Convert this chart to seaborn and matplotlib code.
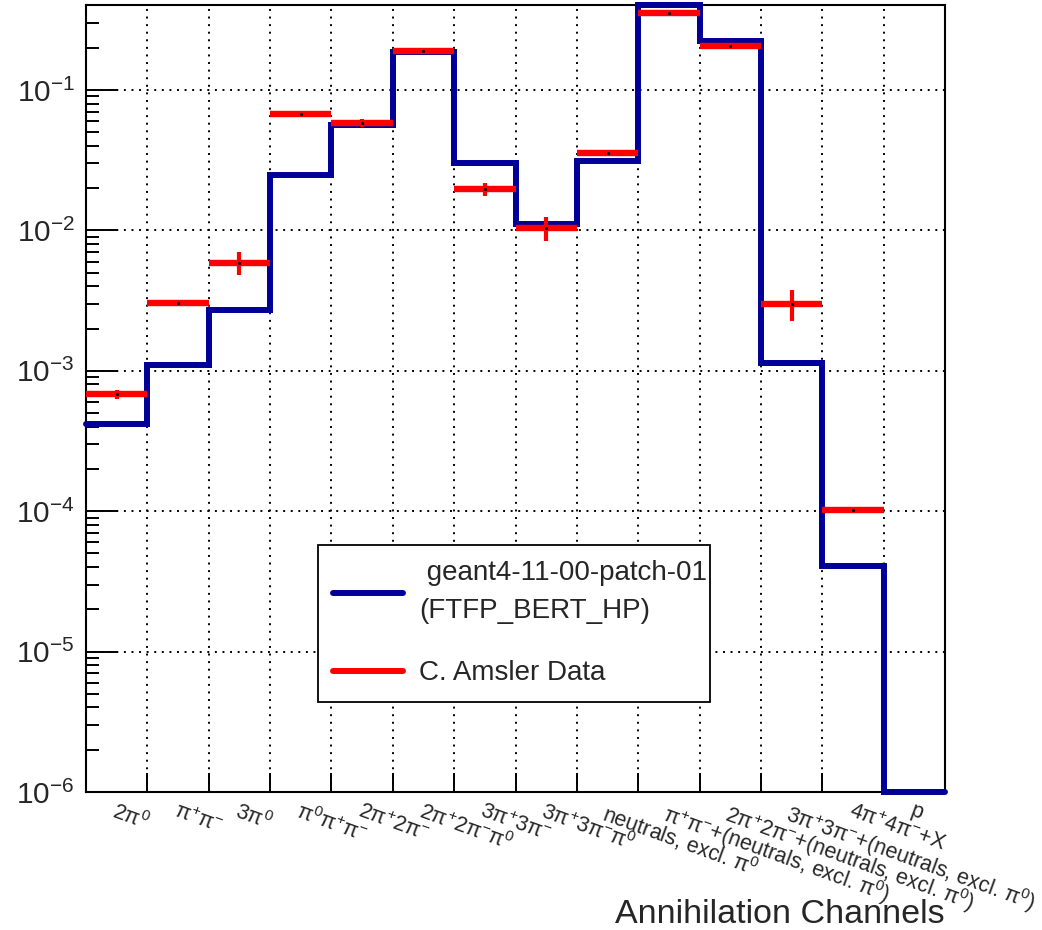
import numpy as np
import pandas as pd
import matplotlib
matplotlib.use("Agg")
import matplotlib.pyplot as plt
from matplotlib.lines import Line2D
from matplotlib.ticker import LogLocator, FixedLocator, NullFormatter
import seaborn as sns

# Annihilation channels (x categories)
channels = [
    r"$2\pi^{0}$",
    r"$\pi^{+}\pi^{-}$",
    r"$3\pi^{0}$",
    r"$\pi^{0}\pi^{+}\pi^{-}$",
    r"$2\pi^{+}2\pi^{-}$",
    r"$2\pi^{+}2\pi^{-}\pi^{0}$",
    r"$3\pi^{+}3\pi^{-}$",
    r"$3\pi^{+}3\pi^{-}\pi^{0}$",
    r"neutrals, excl. $\pi^{0}$",
    r"$\pi^{+}\pi^{-}$+(neutrals, excl. $\pi^{0}$)",
    r"$2\pi^{+}2\pi^{-}$+(neutrals, excl. $\pi^{0}$)",
    r"$3\pi^{+}3\pi^{-}$+(neutrals, excl. $\pi^{0}$)",
    r"$4\pi^{+}4\pi^{-}$+X",
    r"p",
]

# Simulated branching fractions (geant4-11-00-patch-01, FTFP_BERT_HP)
geant4_fraction = [4.2e-4, 1.10e-3, 2.7e-3, 0.0248, 0.0564, 0.187, 0.0302,
                   0.0111, 0.0312, 0.40, 0.223, 1.14e-3, 4.1e-5, 1.0e-6]

# Measured branching fractions (C. Amsler) and their uncertainties
amsler_fraction = [6.8e-4, 3.04e-3, 5.9e-3, 0.0674, 0.0582, 0.190, 0.0197,
                   0.0104, 0.0356, 0.353, 0.206, 3.0e-3, 1.02e-4, np.nan]
amsler_error = [0.5e-4, 0.15e-3, 1.1e-3, 0.003, 0.004, 0.008, 0.0022,
                0.0020, 0.0018, 0.015, 0.008, 0.75e-3, 0.05e-4, np.nan]

model_label = " geant4-11-00-patch-01\n(FTFP_BERT_HP)"
data_label = "C. Amsler Data"
x_title = "Annihilation Channels"

sns.set_theme(style="white")
plt.rcParams["font.family"] = ["Liberation Sans", "DejaVu Sans"]
plt.rcParams["mathtext.fontset"] = "custom"
plt.rcParams["mathtext.rm"] = "Liberation Sans"
plt.rcParams["mathtext.it"] = "Liberation Sans:italic"
plt.rcParams["mathtext.bf"] = "Liberation Sans:bold"
plt.rcParams["mathtext.default"] = "regular"

BLUE = "#000099"
RED = "#ff0000"

n = len(channels)
edges = np.arange(n + 1)
centers = edges[:-1] + 0.5
half_width = 0.5 * np.diff(edges)

sim = pd.DataFrame({"channel": centers, "fraction": geant4_fraction})

fig = plt.figure(figsize=(10.42, 9.30), dpi=100)
ax = fig.add_axes([86 / 1042, 1 - 792 / 930, (945 - 86) / 1042, (792 - 5) / 930])

# Simulation histogram drawn as a step outline
sns.histplot(data=sim, x="channel", weights="fraction", bins=edges.tolist(),
             element="step", fill=False, color=BLUE, linewidth=4.3, ax=ax,
             zorder=3)
for ln in ax.lines:
    ln.set_clip_on(False)
    ln.set_solid_joinstyle("miter")

ax.set_yscale("log")
ax.set_xlim(edges[0], edges[-1])
ax.set_ylim(1e-6, 0.403)

# Measured values with bin-width horizontal bars and vertical uncertainties
ax.errorbar(centers, amsler_fraction, xerr=half_width, fmt="none",
            ecolor=RED, elinewidth=4.6, capsize=0, zorder=4)
ax.errorbar(centers, amsler_fraction, yerr=amsler_error, fmt="none",
            ecolor=RED, elinewidth=3.0, capsize=0, zorder=4)
sns.scatterplot(x=centers, y=amsler_fraction, color="black", s=5,
                linewidth=0, ax=ax, zorder=5)

# Axis ticks: labels at bin centres, tick marks and grid at bin edges
ax.xaxis.set_major_locator(FixedLocator(centers))
ax.xaxis.set_minor_locator(FixedLocator(edges[1:-1]))
ax.set_xticklabels(channels)
for lab in ax.get_xticklabels():
    lab.set_rotation(-20)
    lab.set_rotation_mode("anchor")
    lab.set_ha("left")
    lab.set_va("top")
    lab.set_fontsize(15.5)
ax.tick_params(axis="x", which="major", length=0, pad=6)
ax.tick_params(axis="x", which="minor", direction="in", length=13.7,
               width=1.4, color="black", bottom=True, top=False)

ax.yaxis.set_major_locator(LogLocator(base=10, numticks=20))
ax.yaxis.set_minor_locator(LogLocator(base=10, subs=np.arange(2, 10), numticks=20))
ax.yaxis.set_minor_formatter(NullFormatter())
ax.tick_params(axis="y", which="major", direction="in", length=23, width=1.4,
               labelsize=21.5, pad=8, left=True, right=False, color="black")
ax.tick_params(axis="y", which="minor", direction="in", length=9.4, width=1.4,
               left=True, right=False, color="black")

ax.grid(False)
ax.grid(True, axis="x", which="minor", color="black", linestyle=(0, (1, 2.9)),
        linewidth=1.4)
ax.grid(True, axis="y", which="major", color="black", linestyle=(0, (1, 2.9)),
        linewidth=1.4)
ax.set_axisbelow(True)

for sp in ax.spines.values():
    sp.set_color("black")
    sp.set_linewidth(1.5)

ax.set_ylabel("")
ax.set_xlabel(x_title, fontsize=24.5, ha="right", va="baseline")
ax.xaxis.set_label_coords(1.0, -(923 - 792) / 787)

handles = [Line2D([], [], color=BLUE, linewidth=4.3),
           Line2D([], [], color=RED, linewidth=4.3)]
leg = fig.legend(handles, [model_label, data_label], loc="upper left",
                 bbox_to_anchor=(318 / 1042, 1 - 705 / 930, 392 / 1042, 160 / 930),
                 mode="expand", fontsize=20, frameon=True, fancybox=False,
                 framealpha=1, edgecolor="black", borderaxespad=0,
                 borderpad=0.55, labelspacing=1.3, handlelength=2.5,
                 handletextpad=0.6)
leg.get_frame().set_linewidth(1.3)
for t in leg.get_texts():
    t.set_linespacing(1.6)

fig.savefig("out.png", dpi=100, facecolor="white")
